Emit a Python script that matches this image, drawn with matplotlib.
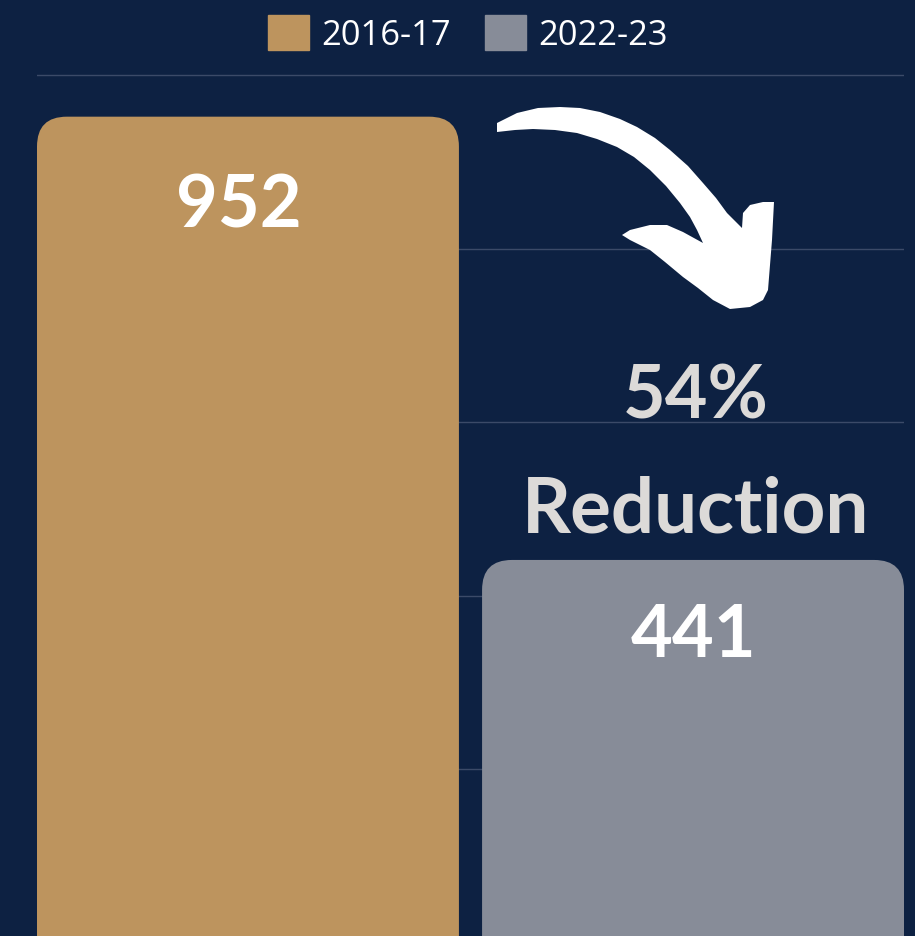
import matplotlib.pyplot as plt
from matplotlib.patches import FancyBboxPatch, PathPatch
from matplotlib.path import Path

periods = ["2016-17", "2022-23"]
counts = [952, 441]
colors = ["#BD945E", "#878C98"]
change_label = "54%"
change_word = "Reduction"

BG = "#0D2142"
W, H = 915, 936

fig = plt.figure(figsize=(W / 100, H / 100), dpi=100, facecolor=BG)
ax = fig.add_axes([37 / W, 0, 867 / W, 866 / H])
ax.set_facecolor(BG)
ax.set_xlim(-0.474, 1.474)
ax.set_ylim(7.5, 1005.8)

bars = ax.bar([0, 1], counts, width=0.948, color=colors, label=periods)
for spine in ax.spines.values():
    spine.set_visible(False)
ax.set_yticks([200, 400, 600, 800, 1000])
ax.tick_params(left=False, bottom=False, labelleft=False, labelbottom=False)
ax.grid(axis="y", color="#3B4A68", linewidth=1)
ax.set_axisbelow(True)

# rounded tops: swap each bar for a rounded box with the same geometry
for b in bars:
    x, w, h = b.get_x(), b.get_width(), b.get_height()
    b.set_visible(False)
    box = FancyBboxPatch((x, -300), w, h + 300,
                         boxstyle="round,pad=0,rounding_size=0.067",
                         mutation_aspect=513, facecolor=b.get_facecolor(),
                         edgecolor="none", zorder=2)
    ax.add_patch(box)

lbl = dict(ha="center", va="baseline", fontweight="bold", family="Lato", zorder=3)
ax.text(-0.02, counts[0] - 128, str(counts[0]), color="white", fontsize=52, **lbl)
ax.text(1.0, counts[1] - 112, str(counts[1]), color="white", fontsize=52, **lbl)
ax.text(1.005, 604, change_label, color="#DCDAD8", fontsize=53, **lbl)
ax.text(1.005, 473, change_word, color="#DCDAD8", fontsize=55, **lbl)

# curved arrow (pixel coords, y down)
top_edge = [(497, 123), (517, 113), (538, 108), (560, 107), (580, 108), (600, 112),
            (620, 119), (637, 127), (655, 138), (670, 150), (688, 166), (703, 183),
            (716, 198), (727, 213), (742, 228)]
head = [(743, 213), (750, 205), (763, 202), (774, 202), (772, 240), (768, 290),
        (763, 300), (750, 307), (730, 309), (713, 300), (698, 288), (683, 277),
        (665, 262), (650, 250), (630, 240), (622, 235), (630, 230), (650, 225),
        (667, 225), (683, 232), (703, 243)]
inner_edge = [(697, 230), (690, 217), (680, 203), (666, 186), (650, 170), (634, 157),
              (617, 147), (597, 139), (577, 133), (555, 130), (533, 129), (515, 130),
              (497, 132)]
outline = top_edge + head + inner_edge
verts = [(x / W, 1 - y / H) for x, y in outline] + [(0, 0)]
codes = [Path.MOVETO] + [Path.LINETO] * (len(outline) - 1) + [Path.CLOSEPOLY]
fig.patches.append(PathPatch(Path(verts, codes), facecolor="white", edgecolor="none",
                             transform=fig.transFigure, figure=fig))

handles = [plt.Rectangle((0, 0), 1, 1, color=c) for c in colors]
fig.legend(handles, periods, loc="center", bbox_to_anchor=(468 / W, 1 - 34 / H),
           ncol=2, frameon=False, labelcolor="white",
           handlelength=1.19, handleheight=1.19, handletextpad=0.35,
           columnspacing=1.0, prop={"family": "Open Sans", "size": 24.8})

fig.savefig("out.png", dpi=100, facecolor=BG)
